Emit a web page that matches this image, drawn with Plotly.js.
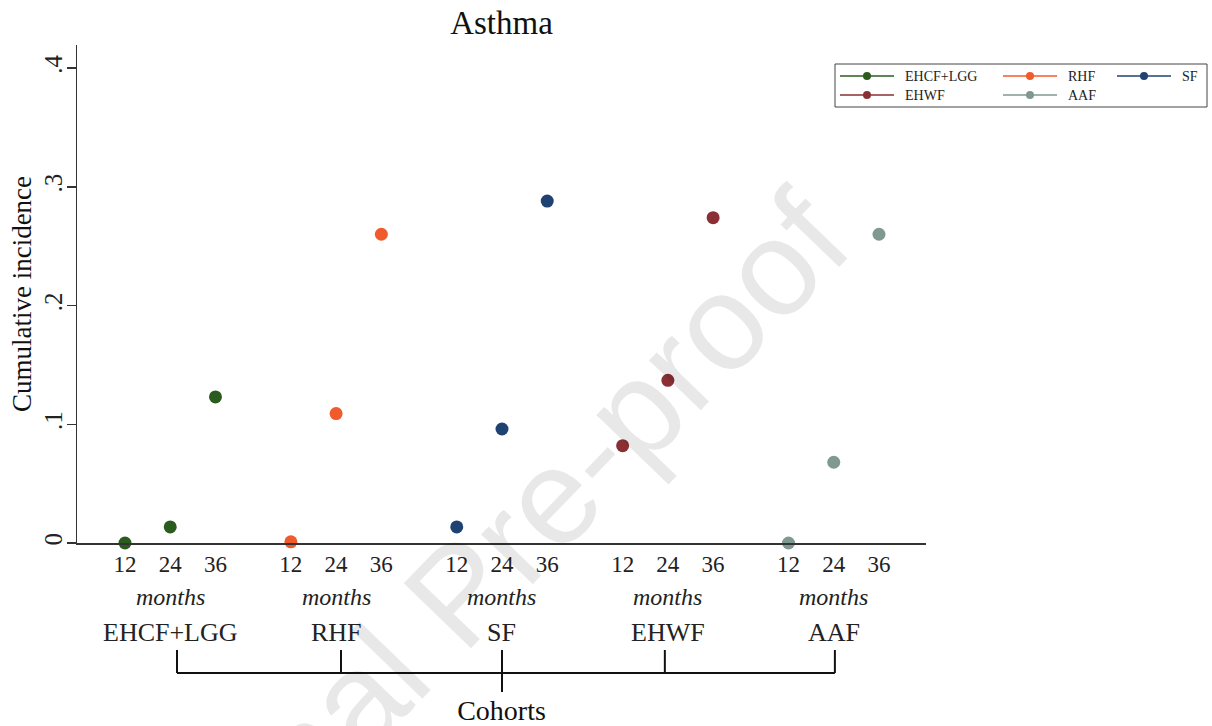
<!DOCTYPE html>
<html><head><meta charset="utf-8">
<script src="https://cdn.plot.ly/plotly-3.0.1.min.js"></script>
<style>html,body{margin:0;padding:0;background:#fff}</style>
</head><body>
<div id="chart" style="width:1212px;height:726px"></div>
<script>
// ---- data ----
const cohorts = ["EHCF+LGG", "RHF", "SF", "EHWF", "AAF"];
const months = [12, 24, 36];
const monthLabels = ["12", "24", "36"];
const ehcfLgg = [0.000, 0.0135, 0.123];
const rhf     = [0.001, 0.109, 0.260];
const sf      = [0.0135, 0.096, 0.288];
const ehwf    = [0.082, 0.137, 0.274];
const aaf     = [0.000, 0.068, 0.260];
const yTickVals = [0, 0.1, 0.2, 0.3, 0.4];
const yTickLabels = ["0", ".1", ".2", ".3", ".4"];
const seriesValues = [ehcfLgg, rhf, sf, ehwf, aaf];
const colors = ["#2b5c1e", "#f15a2b", "#1f4272", "#8a3035", "#7f9891"];

// ---- layout helpers ----
const W = 1212, H = 726;
const M = {l: 77, r: 286, t: 45, b: 183};
const PW = W - M.l - M.r, PH = H - M.t - M.b;
const px2x = p => (p - M.l) / PW;
const py2y = p => (H - M.b - p) / PH;
const GROUP_STEP = 44;
const SERIF = "Liberation Serif, Times New Roman, serif";
const xPos = (g, m) => g * GROUP_STEP + m;
const bracketNudge = [1.8, 1.3, 0, -0.8, 0.3]; // small offsets (x units) of the bracket ticks

const traces = cohorts.map((name, g) => ({
  type: "scatter", mode: "markers", name: name,
  x: months.map(m => xPos(g, m)),
  y: seriesValues[g],
  marker: {color: colors[g], size: 13, line: {width: 0}},
  cliponaxis: false, showlegend: false, hoverinfo: "skip"
}));

const tickVals = [], tickText = [];
cohorts.forEach((c, g) => months.forEach((m, k) => { tickVals.push(xPos(g, m)); tickText.push(monthLabels[k]); }));

const annotations = [];
const shapes = [];
const centers = cohorts.map((c, g) => xPos(g, 24));
const bx = centers.map((c, g) => c + bracketNudge[g]);
cohorts.forEach((c, g) => {
  annotations.push({x: centers[g], xref: "x", y: py2y(597), yref: "paper", text: "months",
    showarrow: false, xanchor: "center", yanchor: "middle",
    font: {family: SERIF, size: 24, color: "#222", style: "italic"}});
  annotations.push({x: centers[g], xref: "x", y: py2y(632), yref: "paper", text: c,
    showarrow: false, xanchor: "center", yanchor: "middle",
    font: {family: SERIF, size: 26, color: "#222"}});
  const isMid = g === 2;
  shapes.push({type: "line", xref: "x", yref: "paper", x0: bx[g], x1: bx[g],
    y0: py2y(650), y1: py2y(isMid ? 692 : 673), line: {color: "#111", width: 2}});
});
shapes.push({type: "line", xref: "x", yref: "paper", x0: bx[0], x1: bx[bx.length - 1],
  y0: py2y(673), y1: py2y(673), line: {color: "#111", width: 2}});

// legend (Stata style, 3 columns)
const legColX = [840, 1003, 1117];
const legRowY = [76, 95];
shapes.push({type: "rect", xref: "paper", yref: "paper", x0: px2x(835), x1: px2x(1207),
  y0: py2y(64), y1: py2y(107), line: {color: "#444", width: 1}, fillcolor: "rgba(0,0,0,0)"});
cohorts.forEach((c, i) => {
  const cx = legColX[i % 3], cy = legRowY[Math.floor(i / 3)];
  shapes.push({type: "line", xref: "paper", yref: "paper", x0: px2x(cx), x1: px2x(cx + 54),
    y0: py2y(cy), y1: py2y(cy), line: {color: colors[i], width: 1.5}});
  shapes.push({type: "circle", xref: "paper", yref: "paper", xsizemode: "pixel", ysizemode: "pixel",
    xanchor: px2x(cx + 27), yanchor: py2y(cy), x0: -4, x1: 4, y0: -4, y1: 4,
    fillcolor: colors[i], line: {width: 0}});
  annotations.push({x: px2x(cx + 63), xref: "paper", y: py2y(cy), yref: "paper", text: c,
    showarrow: false, xanchor: "left", yanchor: "middle",
    font: {family: SERIF, size: 14, color: "#222"}});
});

// watermark
annotations.push({x: px2x(458), y: py2y(594), xref: "paper", yref: "paper", text: "Journal Pre-proof",
  showarrow: false, xanchor: "center", yanchor: "middle", textangle: -46,
  font: {family: "Liberation Sans, Arial, sans-serif", size: 136, color: "rgba(0,0,0,0.09)"}});

const layout = {
  width: W, height: H, margin: M,
  paper_bgcolor: "#fff", plot_bgcolor: "#fff",
  showlegend: false, hovermode: false,
  title: {text: "Asthma", x: 0.5, xref: "paper", y: 1 - 22 / H, yref: "container", yanchor: "middle",
    font: {family: SERIF, size: 33, color: "#111"}},
  xaxis: {range: [-0.73, 224.47], showline: true, linecolor: "#333", linewidth: 1.5,
    ticks: "", tickvals: tickVals, ticktext: tickText, showgrid: false, zeroline: false,
    tickfont: {family: SERIF, size: 23, color: "#222"},
    title: {text: "Cohorts", standoff: 124, font: {family: SERIF, size: 28, color: "#111"}},
    automargin: false, fixedrange: true},
  yaxis: {range: [0, 0.4194], showline: true, linecolor: "#333", linewidth: 1.5,
    ticks: "outside", ticklen: 9, tickcolor: "#333", tickwidth: 1.5,
    tickvals: yTickVals, ticktext: yTickLabels, tickangle: -90, ticklabelstandoff: -5,
    showgrid: false, zeroline: false,
    tickfont: {family: SERIF, size: 25, color: "#222"},
    title: {text: "Cumulative incidence", standoff: 0, font: {family: SERIF, size: 27, color: "#111"}},
    automargin: false, fixedrange: true},
  annotations: annotations, shapes: shapes
};
Plotly.newPlot("chart", traces, layout, {staticPlot: true, displayModeBar: false});
</script>
</body></html>
